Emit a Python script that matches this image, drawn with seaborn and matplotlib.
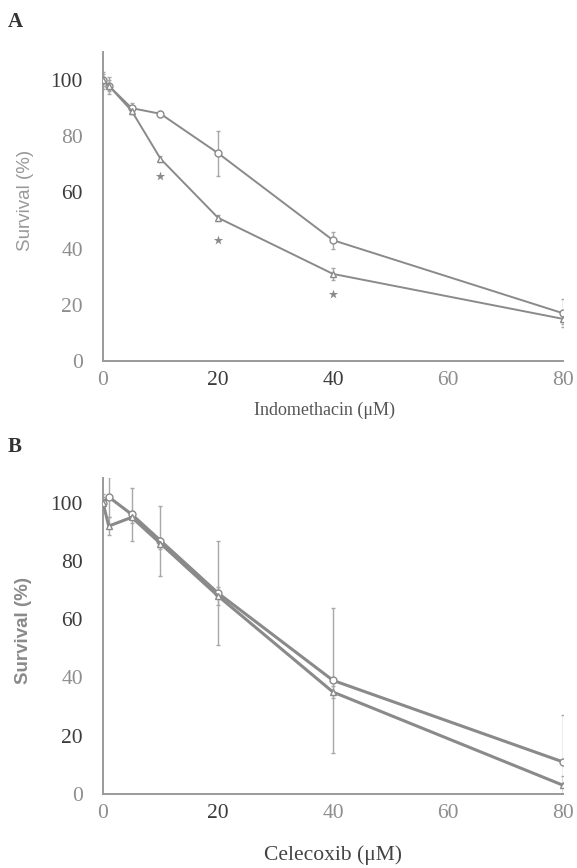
import pandas as pd
import matplotlib.pyplot as plt
import seaborn as sns

# concentrations (uM)
conc = [0, 1, 5, 10, 20, 40, 80]

# panel A - indomethacin
indo_circle = [100, 98, 90, 88, 74, 43, 17]
indo_circle_err = [3, 3, 2, 1, 8, 3, 5]
indo_tri = [100, 98, 89, 72, 51, 31, 15]
indo_tri_err = [2, 2, 1, 1, 1, 2, 2]
indo_star_x = [10, 20, 40]
indo_star_y = [66, 43, 24]

# panel B - celecoxib
celeco_circle = [100, 102, 96, 87, 69, 39, 11]
celeco_circle_err = [3, 7, 9, 12, 18, 25, 16]
celeco_tri = [100, 92, 95, 86, 68, 35, 3]
celeco_tri_err = [2, 3, 2, 2, 3, 2, 3]

y_ticks = [0, 20, 40, 60, 80, 100]
x_ticks = [0, 20, 40, 60, 80]

GRAY = '#8a8a8a'
DARK = '#3c3c3c'
LIGHT = '#8e8e8e'

sns.set_style('white')
plt.rcParams['font.family'] = ['Liberation Serif', 'DejaVu Serif']

fig = plt.figure(figsize=(5.77, 8.68), dpi=100)
ax_a = fig.add_axes([0.1785, 0.5841, 0.7972, 0.356])
ax_b = fig.add_axes([0.1785, 0.0853, 0.7972, 0.364])


def draw_panel(ax, circ, circ_err, tri, tri_err, ytop, lw):
    df = pd.DataFrame({
        'conc': conc * 2,
        'survival': circ + tri,
        'series': ['circle'] * len(conc) + ['triangle'] * len(conc),
    })
    sns.lineplot(data=df, x='conc', y='survival', style='series',
                 markers={'circle': 'o', 'triangle': '^'}, dashes=False,
                 color=GRAY, lw=lw, markersize=5, markerfacecolor='white',
                 markeredgecolor=GRAY, markeredgewidth=1.0,
                 legend=False, ax=ax, zorder=3)
    ax.errorbar(conc, circ, yerr=circ_err, fmt='none', ecolor='#a8a8a8',
                elinewidth=1.0, capsize=1.5, zorder=2)
    ax.errorbar(conc, tri, yerr=tri_err, fmt='none', ecolor='#a8a8a8',
                elinewidth=1.0, capsize=1.5, zorder=2)

    ax.set_xlim(0, 80)
    ax.set_ylim(0, ytop)
    ax.set_xticks(x_ticks)
    ax.set_yticks(y_ticks)
    sns.despine(ax=ax)
    for side in ['left', 'bottom']:
        ax.spines[side].set_color('#9a9a9a')
        ax.spines[side].set_linewidth(1.4)
    ax.tick_params(axis='both', length=3, width=1, color='#b0b0b0',
                   labelsize=15.5, direction='inout')
    ax.tick_params(axis='y', pad=13)
    ax.tick_params(axis='x', pad=6)
    ax.set_xlabel('')
    ax.set_ylabel('')


draw_panel(ax_a, indo_circle, indo_circle_err, indo_tri, indo_tri_err, 110, 1.4)
draw_panel(ax_b, celeco_circle, celeco_circle_err, celeco_tri, celeco_tri_err, 108.5, 2.2)

ax_a.scatter(indo_star_x, indo_star_y, marker='*', s=50, color='#8a8a8a',
             linewidths=0, zorder=4)

# scanned look: tick labels in mixed grey tones
a_y_cols = [LIGHT, LIGHT, LIGHT, DARK, LIGHT, DARK]
a_x_cols = [LIGHT, DARK, DARK, LIGHT, LIGHT]
b_y_cols = [LIGHT, DARK, LIGHT, DARK, DARK, DARK]
b_x_cols = [LIGHT, DARK, LIGHT, LIGHT, LIGHT]
for lab, c in zip(ax_a.get_yticklabels(), a_y_cols):
    lab.set_color(c)
for lab, c in zip(ax_a.get_xticklabels(), a_x_cols):
    lab.set_color(c)
for lab, c in zip(ax_b.get_yticklabels(), b_y_cols):
    lab.set_color(c)
for lab, c in zip(ax_b.get_xticklabels(), b_x_cols):
    lab.set_color(c)

fig.text(0.563, 1 - 410 / 868, 'Indomethacin (μM)', ha='center', va='center',
         fontsize=13, color='#555555')
fig.text(0.577, 1 - 855 / 868, 'Celecoxib (μM)', ha='center', va='center',
         fontsize=15.5, color='#444444')
fig.text(25 / 577, 1 - 200 / 868, 'Survival (%)', rotation=90, ha='center',
         va='center', fontsize=13.5, color='#999999', family=['Liberation Sans'])
fig.text(24 / 577, 1 - 630 / 868, 'Survival (%)', rotation=90, ha='center',
         va='center', fontsize=13.5, color='#8a8a8a', fontweight='bold',
         family=['Liberation Sans'])
fig.text(15 / 577, 1 - 22 / 868, 'A', ha='center', va='center',
         fontsize=15, fontweight='bold', color='#333333')
fig.text(15 / 577, 1 - 447 / 868, 'B', ha='center', va='center',
         fontsize=15, fontweight='bold', color='#333333')

fig.savefig('out.png', dpi=100)
